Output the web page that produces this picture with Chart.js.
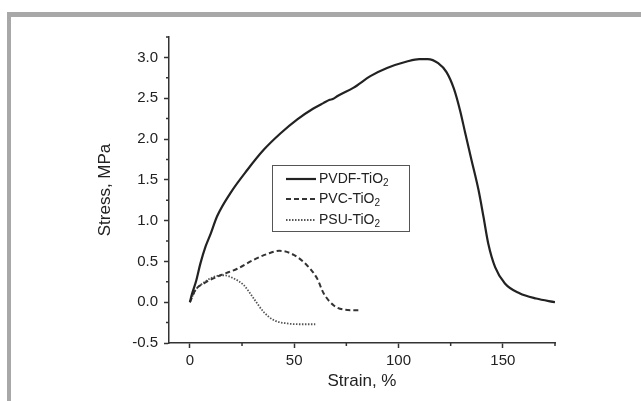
<!DOCTYPE html>
<html>
<head>
<meta charset="utf-8">
<script src="https://cdn.jsdelivr.net/npm/chart.js@4/dist/chart.umd.min.js"></script>
<style>
    html, body { margin: 0; padding: 0; background: #fff; }
    #frame { position: absolute; left: 7px; top: 12px; width: 700px; height: 500px;
             border-left: 4px solid #a8a8a8; border-top: 5px solid #a8a8a8; }
    #wrap { position: absolute; left: 0; top: 0; width: 641px; height: 401px; }
</style>
</head>
<body>
<div id="frame"></div>
<div id="wrap"><canvas id="chartStress" width="641" height="401"></canvas></div>
<script>
// donnees (deformation %, contrainte MPa)
const seriesNames = ["PVDF-TiO", "PVC-TiO", "PSU-TiO"];

const pvdfStrain = [0, 1, 3, 5, 7.5, 10, 13, 19.5, 27.5, 35.5, 43.5, 51.5, 59, 64, 67, 68.5, 71, 78.5, 86.5, 94.5, 104, 110, 114, 119, 123, 126.5, 129.5, 132, 135, 138.3, 140.7, 143, 146.3, 151, 158, 166, 175];
const pvdfStress = [0, 0.1, 0.26, 0.47, 0.68, 0.84, 1.05, 1.34, 1.62, 1.87, 2.07, 2.24, 2.37, 2.44, 2.48, 2.49, 2.53, 2.63, 2.77, 2.87, 2.95, 2.98, 2.98, 2.93, 2.82, 2.62, 2.35, 2.07, 1.74, 1.38, 1.05, 0.72, 0.43, 0.23, 0.11, 0.045, 0.0];

const pvcStrain = [0, 2.7, 6.7, 14.7, 22.7, 30.6, 37, 43, 49.8, 56.2, 61, 64.1, 69, 73.7, 81.7];
const pvcStress = [0, 0.15, 0.23, 0.33, 0.41, 0.52, 0.59, 0.63, 0.58, 0.45, 0.29, 0.11, -0.04, -0.09, -0.10];

const psuStrain = [0, 2.5, 5.1, 11.5, 16.3, 21.1, 25.8, 30.6, 35.4, 40.2, 46.6, 53, 60.1];
const psuStress = [0, 0.14, 0.21, 0.31, 0.33, 0.29, 0.21, 0.045, -0.12, -0.22, -0.26, -0.27, -0.27];

const xTicks = [0, 50, 100, 150];
const xMinor = [25, 75, 125, 175];
const yTicks = [-0.5, 0, 0.5, 1.0, 1.5, 2.0, 2.5, 3.0];
const yMinor = [-0.25, 0.25, 0.75, 1.25, 1.75, 2.25, 2.75, 3.25];

const fontFamily = '"Liberation Sans", Arial, sans-serif';

function toPoints(xs, ys) {
    return xs.map((x, i) => ({ x: x, y: ys[i] }));
}

// petits traits secondaires + legende encadree avec indice
const extrasPlugin = {
    id: 'extras',
    afterDraw(chart) {
        const ctx = chart.ctx;
        const xs = chart.scales.x;
        const ys = chart.scales.y;
        ctx.save();
        ctx.strokeStyle = '#333';
        ctx.lineWidth = 1.5;
        ctx.beginPath();
        for (let v of xMinor) {
            let px = xs.getPixelForValue(v);
            ctx.moveTo(px, xs.top);
            ctx.lineTo(px, xs.top + 3);
        }
        for (let v of yMinor) {
            let py = ys.getPixelForValue(v);
            ctx.moveTo(ys.right, py);
            ctx.lineTo(ys.right - 3, py);
        }
        ctx.stroke();

        // legende
        const left = chart.chartArea.left + 103;
        const top = 165;
        ctx.strokeStyle = '#555';
        ctx.lineWidth = 1;
        ctx.strokeRect(left + 0.5, top + 0.5, 137, 66);
        const rows = [179, 199, 220];
        chart.data.datasets.forEach((ds, i) => {
            ctx.strokeStyle = ds.borderColor;
            ctx.lineWidth = ds.borderWidth;
            ctx.setLineDash(ds.borderDash || []);
            ctx.beginPath();
            ctx.moveTo(left + 14, rows[i]);
            ctx.lineTo(left + 44, rows[i]);
            ctx.stroke();
            ctx.setLineDash([]);
            ctx.fillStyle = '#222';
            ctx.font = '14px ' + fontFamily;
            ctx.textBaseline = 'middle';
            ctx.fillText(ds.label, left + 47, rows[i]);
            let w = ctx.measureText(ds.label).width;
            ctx.font = '10px ' + fontFamily;
            ctx.fillText('2', left + 47 + w, rows[i] + 4);
        });
        ctx.restore();
    }
};

let stressChart = new Chart(document.getElementById("chartStress"), {
    type: 'scatter',
    data: {
        datasets: [{
            label: seriesNames[0],
            data: toPoints(pvdfStrain, pvdfStress),
            borderColor: '#222',
            borderWidth: 2.2
        }, {
            label: seriesNames[1],
            data: toPoints(pvcStrain, pvcStress),
            borderColor: '#333',
            borderWidth: 2,
            borderDash: [5, 3]
        }, {
            label: seriesNames[2],
            data: toPoints(psuStrain, psuStress),
            borderColor: '#555',
            borderWidth: 1.8,
            borderDash: [1.5, 1.5]
        }]
    },
    options: {
        responsive: false,
        animation: false,
        showLine: true,
        elements: {
            point: { radius: 0 },
            line: { cubicInterpolationMode: 'monotone', fill: false }
        },
        layout: { padding: { left: 95, top: 37, right: 86, bottom: 9 } },
        plugins: {
            legend: { display: false },
            tooltip: { enabled: false }
        },
        scales: {
            x: {
                type: 'linear',
                min: -10,
                max: 175,
                afterBuildTicks: (scale) => { scale.ticks = xTicks.map(v => ({ value: v })); },
                afterFit: (scale) => { scale.height = 49; },
                grid: { drawOnChartArea: false, tickLength: 5, tickWidth: 1.5, tickColor: '#333' },
                border: { color: '#333', width: 1.5 },
                ticks: { color: '#222', padding: 4, maxRotation: 0,
                         font: { size: 15, family: fontFamily } },
                title: { display: true, text: 'Strain, %', color: '#222', padding: 0,
                         font: { size: 17, family: fontFamily } }
            },
            y: {
                type: 'linear',
                min: -0.5,
                max: 3.25,
                afterBuildTicks: (scale) => { scale.ticks = yTicks.map(v => ({ value: v })); },
                afterFit: (scale) => { scale.width = 74; },
                grid: { drawOnChartArea: false, tickLength: 5, tickWidth: 1.5, tickColor: '#333' },
                border: { color: '#333', width: 1.5 },
                ticks: { color: '#222', padding: 6,
                         callback: (v) => v.toFixed(1),
                         font: { size: 15, family: fontFamily } },
                title: { display: true, text: 'Stress, MPa', color: '#222', padding: 0,
                         font: { size: 17, family: fontFamily } }
            }
        }
    },
    plugins: [extrasPlugin]
});
</script>
</body>
</html>
